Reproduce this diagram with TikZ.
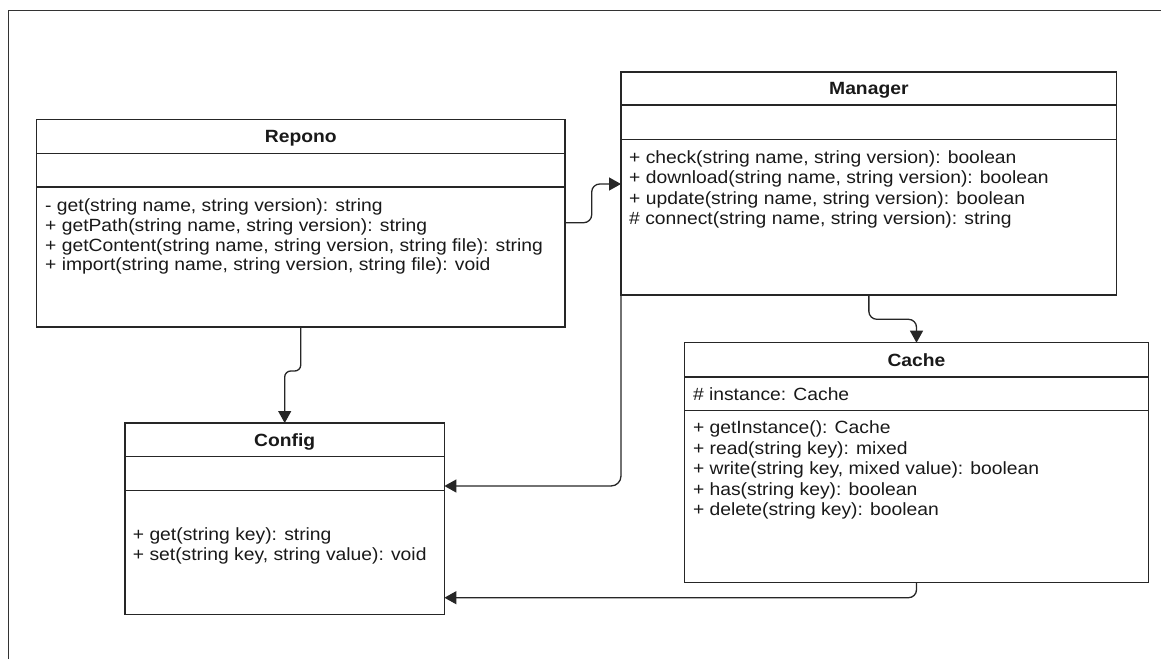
\documentclass[tikz,border=0pt]{standalone}
\usepackage{fontspec}
\setmainfont{Liberation Sans}[FakeStretch=1.09]
\usetikzlibrary{arrows.meta}

% UML class diagram of the Repono package manager
\tikzset{
  x=1pt, y=-1pt,
  edge/.style={draw=black!85, line width=1.4pt},
  cmp/.style={edge, rectangle, inner sep=0pt, outer sep=0pt, anchor=north west},
  title/.style={font=\bfseries\fontsize{17.7}{20}\selectfont, text=black!90,
                text height=12.7pt, text depth=0pt},
  member/.style={font=\fontsize{17.7}{20}\selectfont, text=black!90,
                 anchor=base west, inner sep=0pt},
  conn/.style={draw=black!85, line width=1.3pt, rounded corners=8pt,
               -{Triangle[length=12pt,width=13pt]}},
}

\begin{document}
\begin{tikzpicture}
\useasboundingbox (0,0) rectangle (1161,659);

% page frame (top and left edges)
\draw[black!80, line width=1pt] (8,659) -- (8,10) -- (1161,10);

% ---------- Repono ----------
\node[cmp, title, minimum width=528.5, minimum height=34]  (repono-hdr)  at (36.5,119.5) {Repono};
\node[cmp, minimum width=528.5, minimum height=33.5]       (repono-attr) at (36.5,153.5) {};
\node[cmp, minimum width=528.5, minimum height=140]        (repono-ops)  at (36.5,187) {};
\node[member] (repono-m1) at (45,211)   {- get(string name, string version): string};
\node[member] (repono-m2) at (45,231)   {+ getPath(string name, string version): string};
\node[member] (repono-m3) at (45,251)   {+ getContent(string name, string version, string file): string};
\node[member] (repono-m4) at (45,270.5) {+ import(string name, string version, string file): void};

% ---------- Manager ----------
\node[cmp, title, minimum width=495.7, minimum height=33]  (manager-hdr)  at (621,72) {Manager};
\node[cmp, minimum width=495.7, minimum height=34.5]       (manager-attr) at (621,105) {};
\node[cmp, minimum width=495.7, minimum height=155.5]      (manager-ops)  at (621,139.5) {};
\node[member] (manager-m1) at (629,163.5) {+ check(string name, string version): boolean};
\node[member] (manager-m2) at (629,183.8) {+ download(string name, string version): boolean};
\node[member] (manager-m3) at (629,204.1) {+ update(string name, string version): boolean};
\node[member] (manager-m4) at (629,224.4) {\# connect(string name, string version): string};

% ---------- Cache ----------
\node[cmp, title, minimum width=464.4, minimum height=34.3] (cache-hdr)  at (684.3,342.7) {Cache};
\node[cmp, minimum width=464.4, minimum height=33.5]        (cache-attr) at (684.3,377) {};
\node[cmp, minimum width=464.4, minimum height=171.8]       (cache-ops)  at (684.3,410.5) {};
\node[member] (cache-a1) at (692.8,400.5) {\# instance: Cache};
\node[member] (cache-m1) at (692.8,433.5) {+ getInstance(): Cache};
\node[member] (cache-m2) at (692.8,454)   {+ read(string key): mixed};
\node[member] (cache-m3) at (692.8,474.5) {+ write(string key, mixed value): boolean};
\node[member] (cache-m4) at (692.8,495)   {+ has(string key): boolean};
\node[member] (cache-m5) at (692.8,515.5) {+ delete(string key): boolean};

% ---------- Config ----------
\node[cmp, title, minimum width=319.4, minimum height=33.5] (config-hdr)  at (125,423) {Config};
\node[cmp, minimum width=319.4, minimum height=33.8]        (config-attr) at (125,456.5) {};
\node[cmp, minimum width=319.4, minimum height=124]         (config-ops)  at (125,490.3) {};
\node[member] (config-m1) at (132.7,540) {+ get(string key): string};
\node[member] (config-m2) at (132.7,560) {+ set(string key, string value): void};

% ---------- associations ----------
\draw[conn] ([yshift=-35.7pt]repono-ops.north east) -- ++(26.7,0)
            |- ([yshift=-44.5pt]manager-ops.north west);
\draw[conn, rounded corners=6pt] (repono-ops.south) -- ++(0,44) -| (config-hdr.north);
\draw[conn, rounded corners=10pt] (manager-ops.south west)
            |- ([yshift=-29.5pt]config-attr.north east);
\draw[conn] (manager-ops.south) -- ++(0,24.3) -| (cache-hdr.north);
\draw[conn] (cache-ops.south) |- ([yshift=-107.4pt]config-ops.north east);
\end{tikzpicture}
\end{document}
